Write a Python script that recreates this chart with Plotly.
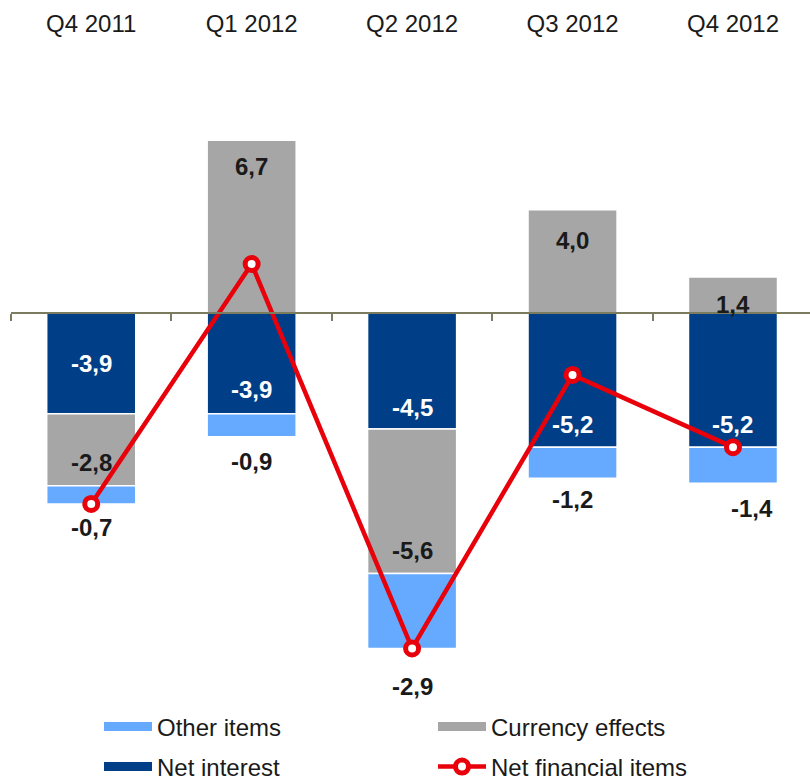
import plotly.graph_objects as go

# Quarterly breakdown of net financial items (SEK bn)
quarters = ["Q4 2011", "Q1 2012", "Q2 2012", "Q3 2012", "Q4 2012"]
net_interest = [-3.9, -3.9, -4.5, -5.2, -5.2]
currency_effects = [-2.8, 6.7, -5.6, 4.0, 1.4]
other_items = [-0.7, -0.9, -2.9, -1.2, -1.4]
net_financial_items = [-7.4, 1.9, -13.0, -2.4, -5.2]

# Label nudges in pixels (positive = up / right)
ni_shift = [50, 24, 22, 23, 23]
ce_shift = [23, -26, 23, -31, -28]
oi_shift = [-24, -25, -38, -21, -25]
oi_xshift = [0, 0, 0, 0, 19]

DARK_BLUE = "#003f87"
GREY = "#a6a6a6"
LIGHT_BLUE = "#66aaff"
RED = "#e8000b"
AXIS = "#7b7b5e"
INK = "#1a1a1a"
FONT = "Liberation Sans, Arial, sans-serif"

W, H = 810, 783
M_L, M_R, M_T, M_B = 11, 0, 38, 83
Y_RANGE = [-15.0, 10.66]
X_RANGE = [-0.5, 4.48]
BAR_W = 0.555
LABEL_SIZE = 24
TEXT_SIZE = 24

fig = go.Figure()

bar_line = dict(color="white", width=1.5)
fig.add_trace(go.Bar(x=quarters, y=net_interest, width=BAR_W, name="Net interest",
                     marker=dict(color=DARK_BLUE, line=bar_line), showlegend=False,
                     hoverinfo="skip"))
fig.add_trace(go.Bar(x=quarters, y=currency_effects, width=BAR_W, name="Currency effects",
                     marker=dict(color=GREY, line=bar_line), showlegend=False,
                     hoverinfo="skip"))
fig.add_trace(go.Bar(x=quarters, y=other_items, width=BAR_W, name="Other items",
                     marker=dict(color=LIGHT_BLUE, line=bar_line), showlegend=False,
                     hoverinfo="skip"))

line_style = dict(color=RED, width=4.5)
marker_style = dict(symbol="circle", size=13, color="white", line=dict(color=RED, width=5))
fig.add_trace(go.Scatter(x=quarters, y=net_financial_items, mode="lines+markers",
                         line=line_style, marker=marker_style, showlegend=False,
                         hoverinfo="skip"))

# carrier trace for the zero axis with category-boundary ticks
fig.add_trace(go.Scatter(x=[None], y=[None], xaxis="x2", showlegend=False, hoverinfo="skip"))

# legend entries drawn as wide swatches
for name, color, leg in [("Other items", LIGHT_BLUE, "legend"),
                         ("Currency effects", GREY, "legend"),
                         ("Net interest", DARK_BLUE, "legend2")]:
    fig.add_trace(go.Scatter(x=[None], y=[None], mode="lines", name=name,
                             line=dict(color=color, width=9), legend=leg))
fig.add_trace(go.Scatter(x=[None], y=[None], mode="lines+markers", name="Net financial items",
                         line=line_style, marker=marker_style, legend="legend2"))

def fmt(v):
    return f"{v:.1f}".replace(".", ",")

annotations = []
for i, q in enumerate(quarters):
    ni = net_interest[i]
    ce = currency_effects[i]
    oi = other_items[i]
    annotations.append(dict(x=q, y=ni, yshift=ni_shift[i], text=f"<b>{fmt(ni)}</b>",
                            font=dict(color="white", size=LABEL_SIZE, family=FONT),
                            showarrow=False, yanchor="middle"))
    ce_end = ni + ce if ce < 0 else ce
    annotations.append(dict(x=q, y=ce_end, yshift=ce_shift[i], text=f"<b>{fmt(ce)}</b>",
                            font=dict(color=INK, size=LABEL_SIZE, family=FONT),
                            showarrow=False, yanchor="middle"))
    bottom = ni + min(ce, 0) + oi
    annotations.append(dict(x=q, y=bottom, yshift=oi_shift[i], xshift=oi_xshift[i],
                            text=f"<b>{fmt(oi)}</b>",
                            font=dict(color=INK, size=LABEL_SIZE, family=FONT),
                            showarrow=False, yanchor="middle"))

legend_common = dict(orientation="h", xref="container", yref="container",
                     xanchor="left", yanchor="middle",
                     entrywidth=271, entrywidthmode="pixels", itemwidth=48,
                     font=dict(size=TEXT_SIZE, color=INK, family=FONT),
                     bgcolor="rgba(0,0,0,0)", traceorder="normal")

fig.update_layout(
    width=W, height=H,
    margin=dict(l=M_L, r=M_R, t=M_T, b=M_B, autoexpand=False),
    paper_bgcolor="white", plot_bgcolor="white",
    barmode="relative",
    font=dict(family=FONT, color=INK),
    xaxis=dict(type="category", side="top", range=X_RANGE, showline=False,
               showgrid=False, zeroline=False, ticks="",
               tickfont=dict(size=TEXT_SIZE, color=INK, family=FONT)),
    xaxis2=dict(overlaying="x", anchor="free", side="bottom", type="linear",
                position=(0 - Y_RANGE[0]) / (Y_RANGE[1] - Y_RANGE[0]),
                range=X_RANGE, showline=True, linecolor=AXIS, linewidth=1.5,
                ticks="outside", ticklen=7, tickwidth=1.5, tickcolor=AXIS,
                tickvals=[-0.5, 0.5, 1.5, 2.5, 3.5], showticklabels=False,
                showgrid=False, zeroline=False),
    yaxis=dict(range=Y_RANGE, visible=False, showgrid=False, zeroline=False),
    legend=dict(x=99 / W, y=1 - 727 / H, **legend_common),
    legend2=dict(x=99 / W, y=1 - 767 / H, **legend_common),
    annotations=annotations,
    showlegend=True,
)

fig.write_html("out.html")
